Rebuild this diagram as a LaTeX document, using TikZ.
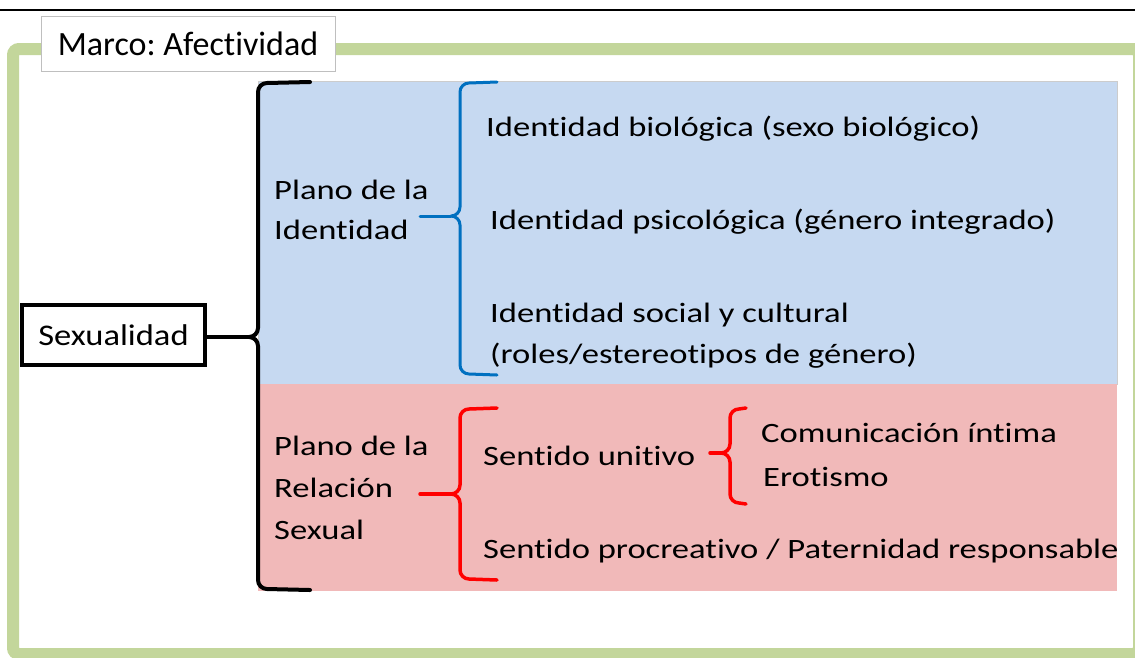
\documentclass[tikz,border=0pt]{standalone}
\usepackage{fontspec}
\setmainfont{Carlito}[Ligatures=NoCommon]
\newfontfamily\cuerpo{Carlito}[FakeStretch=1.235, Ligatures=NoCommon]
\newfontfamily\centro{Carlito}[FakeStretch=1.15, Ligatures=NoCommon]
\usetikzlibrary{positioning}
\frenchspacing

\definecolor{verdemarco}{HTML}{C3D69B}
\definecolor{azulplano}{HTML}{C6D9F1}
\definecolor{rosaplano}{HTML}{F1B9B9}
\definecolor{azulllave}{HTML}{0070C0}
\definecolor{rojollave}{HTML}{FF0000}

% llave: estilo, x, arriba, punta, abajo, fin x, inicio del trazo
\newcommand{\llave}[7]{%
  \draw[#1] (#7,#4) -- (#2-9,#4);
  \draw[#1] (#6,#3) -- (#2+9,#3+1) to[out=180,in=90] (#2,#3+10) -- (#2,#4-9)
    to[out=-90,in=0] (#2-9,#4) to[out=0,in=90] (#2,#4+9) -- (#2,#5-10)
    to[out=-90,in=180] (#2+9,#5-1) -- (#6,#5);}

\begin{document}
\begin{tikzpicture}[x=1pt, y=-1pt,
    texto/.style={anchor=base west, inner sep=0pt, font=\cuerpo\fontsize{28}{40}\selectfont},
    llavenegra/.style={line width=4pt, black, line cap=round, line join=round},
    llaveazul/.style={line width=3pt, azulllave, line cap=round, line join=round},
    llaveroja/.style={line width=3.5pt, rojollave, line cap=round, line join=round}]
  \useasboundingbox (0,0) rectangle (1135,657);

  % linea superior y marco
  \draw[line width=2.5pt] (0,10) -- (1135,10);
  \draw[verdemarco, line width=12pt, rounded corners=6pt] (13,49) rectangle (1139,654);
  \node[draw=black!25, fill=white, line width=1pt, minimum width=294pt, minimum height=55pt,
    font=\fontsize{34}{40}\selectfont] (marco) at (188,43.5) {Marco: Afectividad};

  % planos
  \fill[azulplano, draw=black!20, line width=0.8pt] (258,81) rectangle (1117,384);
  \fill[rosaplano] (258,384) rectangle (1117,591);

  % nodo central
  \node[draw, line width=4pt, minimum width=183pt, minimum height=60pt,
    font=\centro\fontsize{30}{36}\selectfont] (sexo) at (113.5,335) {Sexualidad};

  % plano de la identidad
  \node[texto] (pid1) at (274,199) {Plano de la};
  \node[texto] (pid2) at (274,239) {Identidad};
  \node[texto] (bio) at (486,136) {Identidad biológica (sexo biológico)};
  \node[texto] (psi) at (490,229) {Identidad psicológica (género integrado)};
  \node[texto] (soc1) at (490,322) {Identidad social y cultural};
  \node[texto] (soc2) at (490,363) {(roles/estereotipos de género)};

  % plano de la relacion sexual
  \node[texto] (prs1) at (274,455) {Plano de la};
  \node[texto] (prs2) at (274,497) {Relación};
  \node[texto] (prs3) at (274,539) {Sexual};
  \node[texto] (uni) at (483,465) {Sentido unitivo};
  \node[texto] (pro) at (483,558) {Sentido procreativo / Paternidad responsable};
  \node[texto] (com) at (761,442) {Comunicación íntima};
  \node[texto] (ero) at (763,486) {Erotismo};

  % llaves
  \llave{llavenegra}{258}{82}{337}{590}{310}{205}
  \llave{llaveazul}{460}{82}{216}{375}{497}{420}
  \llave{llaveroja}{460}{408}{494}{580}{497}{420}
  \llave{llaveroja}{730}{408}{453}{504}{746}{710}
\end{tikzpicture}
\end{document}
